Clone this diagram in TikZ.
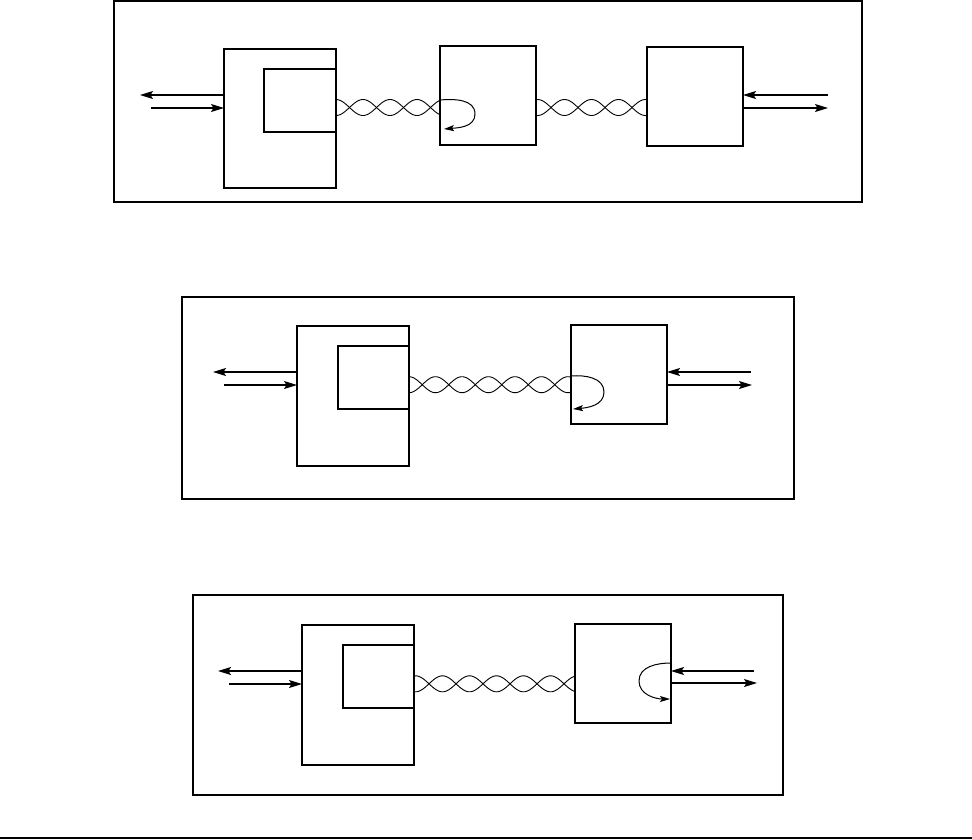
\documentclass[tikz,border=0pt]{standalone}
\usetikzlibrary{arrows.meta}
\begin{document}
\begin{tikzpicture}[x=1pt,y=-1pt,
  frame/.style={draw,line width=1.1pt,inner sep=0pt,outer sep=0pt},
  sig/.style={line width=1.2pt,-{Stealth[length=13pt,width=8pt,inset=2.5pt]}},
  loopar/.style={line width=1pt,-{Stealth[length=10pt,width=6pt,inset=2pt]}},
  wire/.style={line width=0.9pt}]
\useasboundingbox (0,0) rectangle (972,839);
% ---------- panel 1 ----------
\node[frame,minimum width=748pt,minimum height=201pt] (P1) at (488,101.5) {};
\node[frame,minimum width=112pt,minimum height=139pt] (A1) at (280,118.5) {};
\node[frame,minimum width=72pt,minimum height=63pt] (I1) at (300,100.5) {};
\node[frame,minimum width=96pt,minimum height=99pt] (B1) at (488,95.5) {};
\node[frame,minimum width=96pt,minimum height=99pt] (C1) at (695,96.5) {};
\coordinate (L1a) at (140,95);
\coordinate (L1b) at (151,108);
\coordinate (R1a) at (828,95);
\coordinate (R1b) at (828,108);
\draw[sig] (A1.west |- L1a) -- (L1a);
\draw[sig] (L1b) -- (A1.west |- L1b);
\draw[sig] (R1a) -- (C1.east |- R1a);
\draw[sig] (C1.east |- R1b) -- (R1b);
\begin{scope}[shift={(336,107.5)}]
  \draw[wire] plot[domain=0:104,samples=90] (\x,{8*cos(6.6667*\x)});
  \draw[wire] plot[domain=0:104,samples=90] (\x,{-8*cos(6.6667*\x)});
\end{scope}
\begin{scope}[shift={(536,107.5)}]
  \draw[wire] plot[domain=0:111,samples=90] (\x,{8*cos(6.6667*(\x-1.5))});
  \draw[wire] plot[domain=0:111,samples=90] (\x,{-8*cos(6.6667*(\x-1.5))});
\end{scope}
\coordinate (LP1s) at (440,100);
\coordinate (LP1m) at (475,114);
\coordinate (LP1e) at (444,129);
\draw[loopar] (LP1s) to[out=5,in=90] (LP1m) to[out=-90,in=5] (LP1e);
% ---------- panel 2 ----------
\node[frame,minimum width=612pt,minimum height=202pt] (P2) at (488,398) {};
\node[frame,minimum width=112pt,minimum height=140pt] (A2) at (353,396) {};
\node[frame,minimum width=71pt,minimum height=63pt] (I2) at (373.5,377.5) {};
\node[frame,minimum width=96pt,minimum height=99pt] (B2) at (619,374.5) {};
\coordinate (L2a) at (213,372);
\coordinate (L2b) at (224,385);
\coordinate (R2a) at (751,372);
\coordinate (R2b) at (752,385);
\draw[sig] (A2.west |- L2a) -- (L2a);
\draw[sig] (L2b) -- (A2.west |- L2b);
\draw[sig] (R2a) -- (B2.east |- R2a);
\draw[sig] (B2.east |- R2b) -- (R2b);
\begin{scope}[shift={(409,384.7)}]
  \draw[wire] plot[domain=0:162,samples=130] (\x,{8*cos(6.7925*\x)});
  \draw[wire] plot[domain=0:162,samples=130] (\x,{-8*cos(6.7925*\x)});
\end{scope}
\coordinate (LP2s) at (571,376);
\coordinate (LP2m) at (604,392);
\coordinate (LP2e) at (573,409);
\draw[loopar] (LP2s) to[out=5,in=90] (LP2m) to[out=-90,in=5] (LP2e);
% ---------- panel 3 ----------
\node[frame,minimum width=590pt,minimum height=200pt] (P3) at (488,695) {};
\node[frame,minimum width=112pt,minimum height=140pt] (A3) at (358,695) {};
\node[frame,minimum width=71pt,minimum height=63pt] (I3) at (378.5,676.5) {};
\node[frame,minimum width=96pt,minimum height=99pt] (B3) at (623,673.5) {};
\coordinate (L3a) at (218,671);
\coordinate (L3b) at (229,684);
\coordinate (R3a) at (754,671);
\coordinate (R3b) at (757,683);
\draw[sig] (A3.west |- L3a) -- (L3a);
\draw[sig] (L3b) -- (A3.west |- L3b);
\draw[sig] (R3a) -- (B3.east |- R3a);
\draw[sig] (B3.east |- R3b) -- (R3b);
\begin{scope}[shift={(414,683.8)}]
  \draw[wire] plot[domain=0:161,samples=130] (\x,{8*cos(6.6667*(\x-1.5))});
  \draw[wire] plot[domain=0:161,samples=130] (\x,{-8*cos(6.6667*(\x-1.5))});
\end{scope}
\coordinate (LP3s) at (671,663);
\coordinate (LP3m) at (639,681);
\coordinate (LP3e) at (670,699);
\draw[loopar] (LP3s) to[out=180,in=90] (LP3m) to[out=-90,in=180] (LP3e);
% ---------- bottom rule ----------
\coordinate (BRl) at (0,838);
\coordinate (BRr) at (972,838);
\draw[line width=1.8pt] (BRl) -- (BRr);
\end{tikzpicture}
\end{document}
